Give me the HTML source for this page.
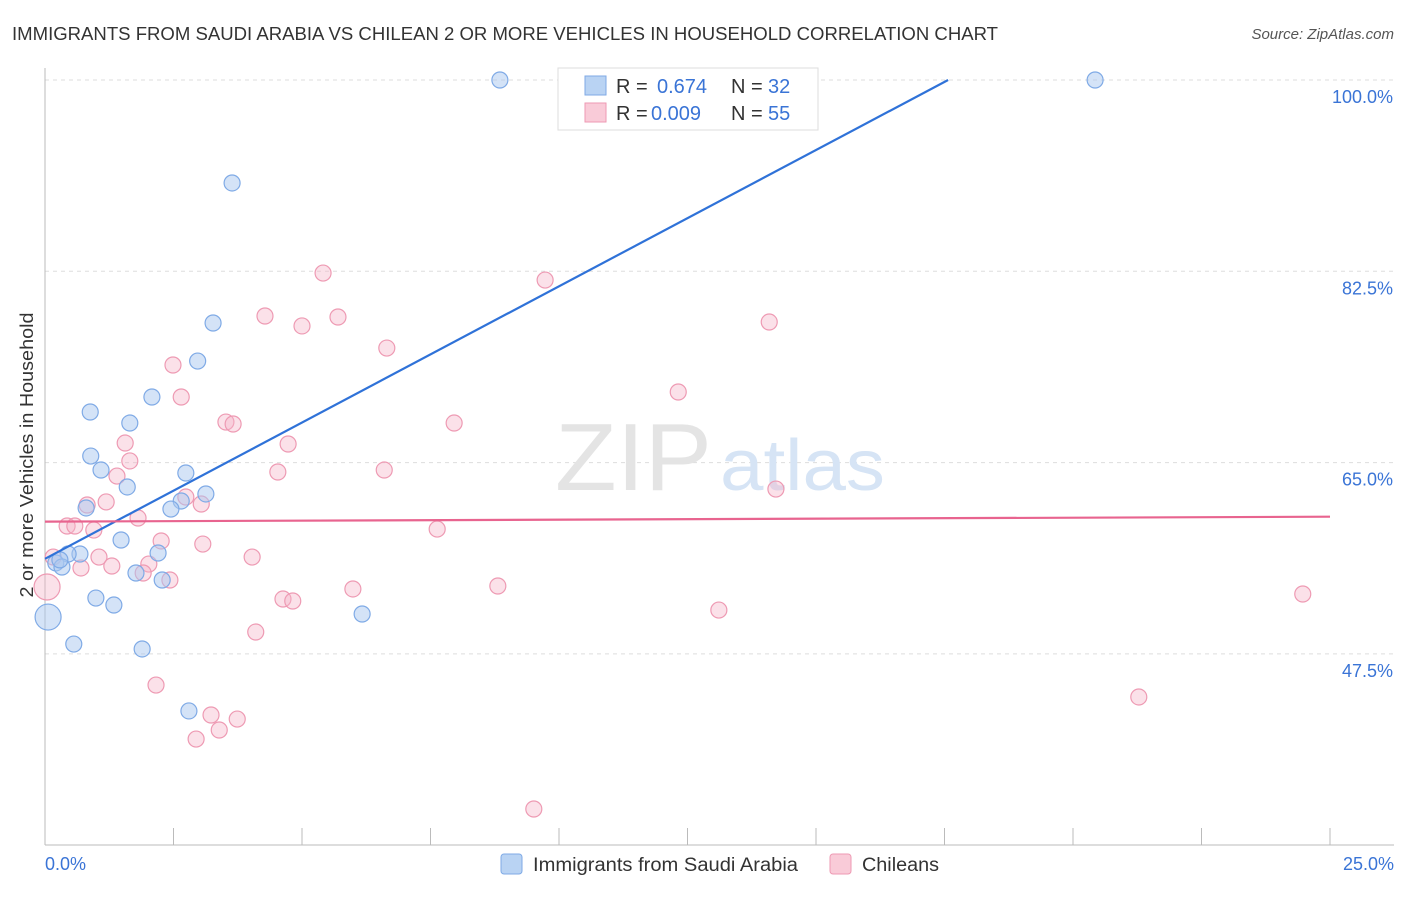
<!DOCTYPE html>
<html><head><meta charset="utf-8"><style>
body{margin:0;background:#fff;font-family:"Liberation Sans",sans-serif;}
svg text{font-family:"Liberation Sans",sans-serif;}
</style></head><body>
<svg id="chart" width="1406" height="892" xmlns="http://www.w3.org/2000/svg">
<text x="12" y="40" font-size="18" fill="#333" textLength="986" lengthAdjust="spacingAndGlyphs">IMMIGRANTS FROM SAUDI ARABIA VS CHILEAN 2 OR MORE VEHICLES IN HOUSEHOLD CORRELATION CHART</text>
<text x="1394" y="39" font-size="15" fill="#555" text-anchor="end" font-style="italic">Source: ZipAtlas.com</text>
<g id="grid"></g>
<text x="555" y="490" font-size="96" fill="#e4e4e4" textLength="157" lengthAdjust="spacingAndGlyphs" font-family="Liberation Serif">ZIP</text>
<text x="720" y="490" font-size="72" fill="#d6e4f5" textLength="165" lengthAdjust="spacingAndGlyphs">atlas</text>
<g id="pts"></g>
<g id="lines"></g>
<text x="33" y="455" font-size="18" fill="#333" text-anchor="middle" textLength="285" lengthAdjust="spacingAndGlyphs" transform="rotate(-90 33 455)">2 or more Vehicles in Household</text>
<g>
<rect x="558" y="68" width="260" height="62" fill="#fff" stroke="#ddd"/>
<rect x="585" y="76" width="21" height="19" fill="#b9d3f3" stroke="#7faae6"/>
<rect x="585" y="103" width="21" height="19" fill="#f9cbd8" stroke="#ee9ab3"/>
<text x="616" y="93" font-size="20" fill="#333">R = </text><text x="657" y="93" font-size="20" fill="#3a74d6">0.674</text>
<text x="731" y="93" font-size="20" fill="#333">N = </text><text x="768" y="93" font-size="20" fill="#3a74d6">32</text>
<text x="616" y="120" font-size="20" fill="#333">R = </text><text x="651" y="120" font-size="20" fill="#3a74d6">0.009</text>
<text x="731" y="120" font-size="20" fill="#333">N = </text><text x="768" y="120" font-size="20" fill="#3a74d6">55</text>
</g>
<g>
<rect x="501" y="854" width="21" height="20" rx="3" fill="#b9d3f3" stroke="#7faae6"/>
<text x="533" y="871" font-size="19" fill="#333" textLength="265" lengthAdjust="spacingAndGlyphs">Immigrants from Saudi Arabia</text>
<rect x="830" y="854" width="21" height="20" rx="3" fill="#f9cbd8" stroke="#ee9ab3"/>
<text x="862" y="871" font-size="19" fill="#333" textLength="77" lengthAdjust="spacingAndGlyphs">Chileans</text>
</g>
</svg>
<script>
const blueX=[8.85,20.43,3.64,3.27,2.97,2.08,0.88,1.65,0.89,1.09,2.74,1.60,3.13,2.65,0.80,2.45,1.48,2.20,0.68,0.45,0.21,0.33,1.77,2.28,0.99,1.34,6.17,0.06,0.56,1.89,2.80,0.29];
const blueY=[100,100,90.58,77.77,74.29,71.0,69.63,68.62,65.6,64.32,64.05,62.77,62.13,61.49,60.85,60.75,57.92,56.73,56.64,56.64,55.82,55.45,54.9,54.26,52.61,51.97,51.15,50.87,48.4,47.95,42.28,56.1];
const pinkX=[5.41,9.73,4.28,5.70,14.09,5.0,6.65,2.49,2.65,12.32,3.52,3.66,7.96,1.56,4.73,1.65,1.40,4.53,6.60,14.22,1.19,2.74,3.04,0.82,1.81,0.43,0.58,0.95,7.63,3.07,2.26,4.03,1.05,0.16,2.02,1.30,0.70,1.91,2.43,0.04,8.81,5.99,24.47,4.63,4.82,13.11,4.10,2.16,21.28,3.23,3.74,2.94,3.39,9.51];
const pinkY=[82.34,81.7,78.41,78.32,77.86,77.5,75.48,73.93,71.0,71.46,68.71,68.53,68.62,66.79,66.7,65.15,63.77,64.14,64.32,62.58,61.4,61.85,61.21,61.12,59.93,59.2,59.2,58.83,58.92,57.55,57.83,56.36,56.36,56.36,55.72,55.54,55.36,54.9,54.26,53.62,53.71,53.44,52.98,52.52,52.34,51.51,49.5,44.65,43.56,41.91,41.54,39.71,40.54,33.31];
const blueBig=[27], pinkBig=[39];
const blueLine=[[0,56.2],[17.57,100]];
const pinkLine=[[0,59.6],[25,60.05]];
const yTicks=[100,82.5,65,47.5];
const yTickLabels=["100.0%","82.5%","65.0%","47.5%"];
const xTicks=[0,2.5,5,7.5,10,12.5,15,17.5,20,22.5,25];

const NS="http://www.w3.org/2000/svg";
const sx=v=>45+v/25*1285;
const sy=v=>80+(100-v)/17.5*191.3;
function mk(t,a,p){const e=document.createElementNS(NS,t);for(const k in a)e.setAttribute(k,a[k]);p.appendChild(e);return e;}
const grid=document.getElementById('grid');
yTicks.forEach((t,i)=>{
 const l=mk('line',{x1:45,x2:1394,y1:sy(t),y2:sy(t),stroke:'#ddd','stroke-dasharray':'4,4'},grid);
 
 
 const tx=mk('text',{x:1393,y:sy(t)+23,'font-size':18,fill:'#3a74d6','text-anchor':'end'},grid);
 tx.textContent=yTickLabels[i];
 
 
});
const ax=mk('line',{x1:45,x2:45,y1:68,y2:845,stroke:'#bbb'},grid);


const bx=mk('line',{x1:45,x2:1394,y1:845,y2:845,stroke:'#bbb'},grid);


xTicks.forEach(t=>{
 const l=mk('line',{x1:sx(t),x2:sx(t),y1:828,y2:845,stroke:'#bbb'},grid);
 
 
});
const x0=mk('text',{x:45,y:870,'font-size':18,fill:'#3a74d6'},grid);x0.textContent='0.0%';


const x1=mk('text',{x:1394,y:870,'font-size':18,fill:'#3a74d6','text-anchor':'end'},grid);x1.textContent='25.0%';


const pts=document.getElementById('pts');
pinkX.forEach((v,i)=>{
 const c=mk('circle',{cx:sx(v),cy:sy(pinkY[i]),r:pinkBig.includes(i)?13:8,fill:'rgba(246,180,200,0.4)',stroke:'#ee9ab3','stroke-width':1.2},pts);
 
 
});
blueX.forEach((v,i)=>{
 const c=mk('circle',{cx:sx(v),cy:sy(blueY[i]),r:blueBig.includes(i)?13:8,fill:'rgba(170,200,240,0.5)',stroke:'#7faae6','stroke-width':1.2},pts);
 
 
});
const lines=document.getElementById('lines');
const bl=mk('line',{x1:sx(blueLine[0][0]),y1:sy(blueLine[0][1]),x2:sx(blueLine[1][0]),y2:sy(blueLine[1][1]),stroke:'#2f72d8','stroke-width':2.2},lines);


const pl=mk('line',{x1:sx(pinkLine[0][0]),y1:sy(pinkLine[0][1]),x2:sx(pinkLine[1][0]),y2:sy(pinkLine[1][1]),stroke:'#e8648f','stroke-width':2.2},lines);


</script>
</body></html>
